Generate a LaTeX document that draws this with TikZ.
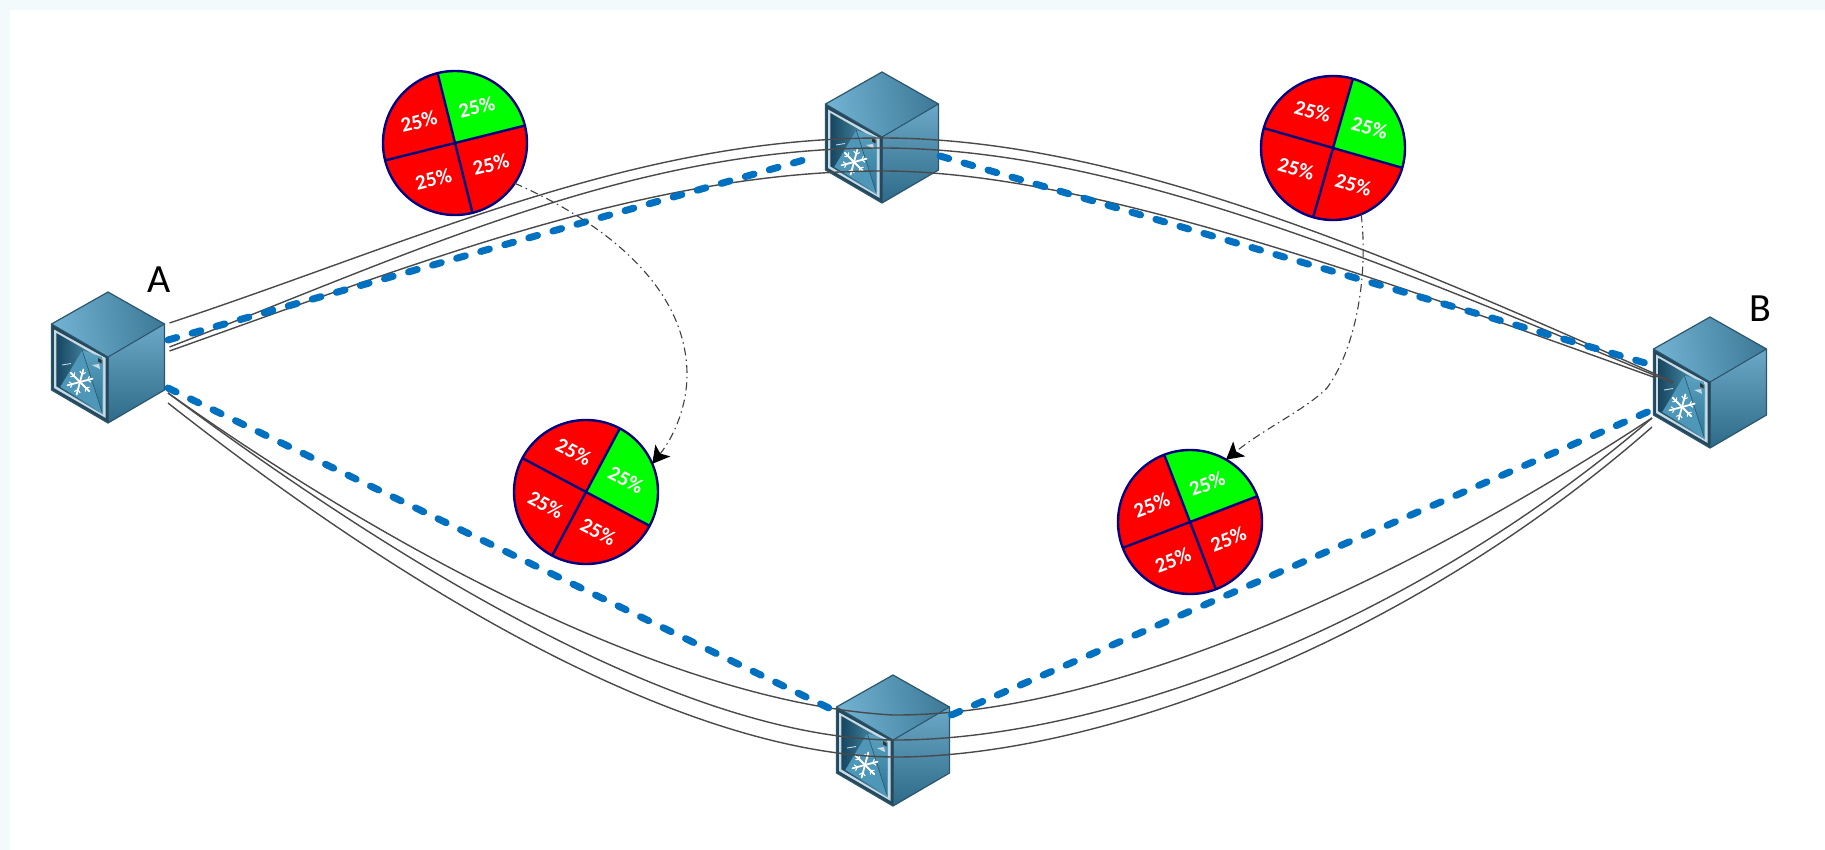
\documentclass[tikz,border=0pt]{standalone}
\usepackage{fontspec}
\setmainfont{Carlito}
\usetikzlibrary{arrows.meta}
\definecolor{pagebg}{HTML}{F2FAFB}
\definecolor{cubeedge}{HTML}{2C566C}
\definecolor{toplight}{HTML}{72B2D2}
\definecolor{topdark}{HTML}{3D7A98}
\definecolor{siderlight}{HTML}{6CA9C8}
\definecolor{siderdark}{HTML}{2C6A88}
\definecolor{framelight}{HTML}{C8DAE4}
\definecolor{windark}{HTML}{174660}
\definecolor{winlight}{HTML}{5AA2C0}
\definecolor{pyrlight}{HTML}{4E97B8}
\definecolor{pyrdark}{HTML}{2F7596}
\definecolor{linkblue}{HTML}{0070C0}
\definecolor{linkgray}{HTML}{4A4A4A}
\definecolor{pieedge}{HTML}{000080}
\definecolor{piered}{HTML}{FF0000}
\definecolor{piegreen}{HTML}{00FF00}
\tikzset{
  linkline/.style={draw=linkgray,line width=1.4pt},
  bluedash/.style={draw=linkblue,line width=7pt,line cap=round,dash pattern=on 9pt off 16pt},
  moveline/.style={draw=black!75,line width=1.1pt,dash pattern=on 8pt off 4pt on 1.5pt off 4pt,
    -{Stealth[length=17pt,width=19pt,inset=4pt,color=black]}},
  piebase/.style={circle,fill=piered,minimum size=144pt,inner sep=0pt,outer sep=0pt},
  pietext/.style={text=white,font=\fontsize{21}{21}\selectfont\bfseries,inner sep=0pt},
  toplabel/.style={text=black,font=\fontsize{40}{40}\selectfont,inner sep=0pt},
  cube/.pic={
    % top face
    \shade[left color=toplight,right color=topdark,shading angle=100]
      (0,-65) -- (-56.5,-33) -- (0,0) -- (56.5,-33) -- cycle;
    % right face
    \shade[top color=siderlight,bottom color=siderdark]
      (0,0) -- (56.5,-33) -- (56.5,33) -- (0,66) -- cycle;
    % left face
    \fill[cubeedge!85!black] (-56.5,-33) -- (0,0) -- (0,66) -- (-56.5,33) -- cycle;
    \fill[framelight] (-54,-27.5) -- (-2.3,1) -- (-2.3,61) -- (-54,31) -- cycle;
    \shade[left color=windark,right color=winlight]
      (-51.7,-24) -- (-5,2.7) -- (-5,57.7) -- (-51.7,29.3) -- cycle;
    % pyramid
    \fill[pyrlight] (-25.7,-6.7) -- (-47.7,30) -- (-6,55) -- cycle;
    \shade[top color=winlight,bottom color=pyrdark] (-25.7,-6.7) -- (-6,0) -- (-6,55) -- cycle;
    \draw[cubeedge,line width=.6pt] (-25.7,-6.7) -- (-6,55);
    % snowflake
    \begin{scope}[shift={(-28,25)}]
      \foreach \ang in {15,75,135,195,255,315}{
        \draw[white,line width=1.8pt,line cap=round] (0pt,0pt) -- (\ang:13pt);
        \draw[white,line width=1pt] (\ang:8pt) -- ++(\ang+50:4pt);
        \draw[white,line width=1pt] (\ang:8pt) -- ++(\ang-50:4pt);
      }
    \end{scope}
    \draw[framelight,line width=.9pt] (-46,8) -- (-37,6.5);
    \fill[framelight] (-16,8) -- (-9,7) -- (-8,12) -- cycle;
    \fill[black!80] (-10,1) -- (-6.5,3) -- (-6.5,6.5) -- (-10,4.5) -- cycle;
    % edges
    \draw[cubeedge,line width=1.2pt,line join=round]
      (0,-65) -- (-56.5,-33) -- (-56.5,33) -- (0,66) -- (56.5,33) -- (56.5,-33) -- cycle;
    \draw[cubeedge,line width=1.1pt,line join=round] (-56.5,-33) -- (0,0) -- (56.5,-33);
    \draw[cubeedge,line width=1pt] (0,0) -- (0,66);
  }
}
\newcommand{\ratepie}[4]{%
  \node[piebase] (#1) at (#2,#3) {};
  \pgfmathtruncatemacro{\angA}{#4}
  \pgfmathtruncatemacro{\angB}{#4+90}
  \pgfmathtruncatemacro{\angC}{#4+180}
  \pgfmathtruncatemacro{\angD}{#4+270}
  \fill[piegreen] (#1.center) -- ++(\angA:72pt) arc[start angle=\angA,end angle=\angB,radius=72pt] -- cycle;
  \draw[pieedge,line width=2.4pt] (#1.\angA) -- (#1.\angC);
  \draw[pieedge,line width=2.4pt] (#1.\angB) -- (#1.\angD);
  \draw[pieedge,line width=2.4pt] (#1.center) circle[radius=72pt];
  \foreach \off in {45,135,225,315}{
    \pgfmathtruncatemacro{\angT}{#4+\off}
    \node[pietext,rotate=#4] (#1t\off) at ([shift={(\angT:42pt)}]#1.center) {25\%};
  }
}
\begin{document}
\begin{tikzpicture}[x=1pt,y=-1pt]
\useasboundingbox (0,0) rectangle (1825,850);
\fill[pagebg] (0,0) rectangle (1825,850);
\fill[white] (10,10) rectangle (1825,850);

% routers
\pic (routerA) at (108,357) {cube};
\pic (routerT) at (882,137) {cube};
\pic (routerB) at (1710,382) {cube};
\pic (routerS) at (893,740) {cube};

% link end points
\coordinate (Aup1) at (169.5,323);
\coordinate (Aup2) at (169.5,347);
\coordinate (Aup3) at (169.5,351);
\coordinate (Tup1) at (882,138);
\coordinate (Tup2) at (882,148);
\coordinate (Tup3) at (882,171);
\coordinate (Bup1) at (1673,382);
\coordinate (Bup2) at (1673,383);
\coordinate (Bup3) at (1656,378);
\coordinate (Alo1) at (168,393);
\coordinate (Alo3) at (168,403);
\coordinate (Slo1) at (893,715);
\coordinate (Slo2) at (893,740);
\coordinate (Slo3) at (893,757);
\coordinate (Blo1) at (1652,418);
\coordinate (Blo3) at (1652,427);
\coordinate (Abl1) at (168,340);
\coordinate (Tbl1) at (811,158);
\coordinate (Tbl2) at (940,156);
\coordinate (Bbl1) at (1652,365);
\coordinate (Abl2) at (168,388);
\coordinate (Sbl1) at (833,710);
\coordinate (Sbl2) at (951.5,715);
\coordinate (Bbl2) at (1652,410);

% gray links, upper
\draw[linkline] (Aup1) .. controls (420,240) and (632,138) .. (Tup1)
   .. controls (1112,138) and (1373,247) .. (Bup1);
\draw[linkline] (Aup2) .. controls (420,250) and (632,148) .. (Tup2)
   .. controls (1112,148) and (1373,258) .. (Bup2);
\draw[linkline] (Aup3) .. controls (420,262) and (650,171) .. (Tup3)
   .. controls (1082,171) and (1370,275) .. (Bup3);
% gray links, lower
\draw[linkline] (Alo1) .. controls (418,570) and (690,704) .. (Slo1)
   .. controls (1100,716) and (1390,590) .. (Blo1);
\draw[linkline] (Alo1) .. controls (418,578) and (690,738) .. (Slo2)
   .. controls (1090,741) and (1400,635) .. (Blo1);
\draw[linkline] (Alo3) .. controls (418,600) and (690,755) .. (Slo3)
   .. controls (1090,758) and (1400,648) .. (Blo3);

% blue dashed paths
\draw[bluedash] (Abl1) -- (Tbl1);
\draw[bluedash] (Tbl2) -- (Bbl1);
\draw[bluedash] (Abl2) -- (Sbl1);
\draw[bluedash] (Sbl2) -- (Bbl2);

% pies
\ratepie{pieOne}{455}{143}{14}
\ratepie{pieTwo}{1333}{148}{-16}
\ratepie{pieThree}{586}{492}{-28}
\ratepie{pieFour}{1190}{522}{21}

% movement arrows
\coordinate (bendOne) at (687,375);
\coordinate (bendTwo) at (1327,388);
\draw[moveline] (pieOne.-34) .. controls (610,225) and (687,290) .. (bendOne)
   .. controls (687,405) and (675,435) .. (pieThree.23);
\draw[moveline] (pieTwo.-67) .. controls (1368,270) and (1358,345) .. (bendTwo)
   .. controls (1305,410) and (1265,428) .. (pieFour.60);

% labels
\node[toplabel] (labelA) at (159,280) {A};
\node[toplabel] (labelB) at (1760,309) {B};
\end{tikzpicture}
\end{document}
